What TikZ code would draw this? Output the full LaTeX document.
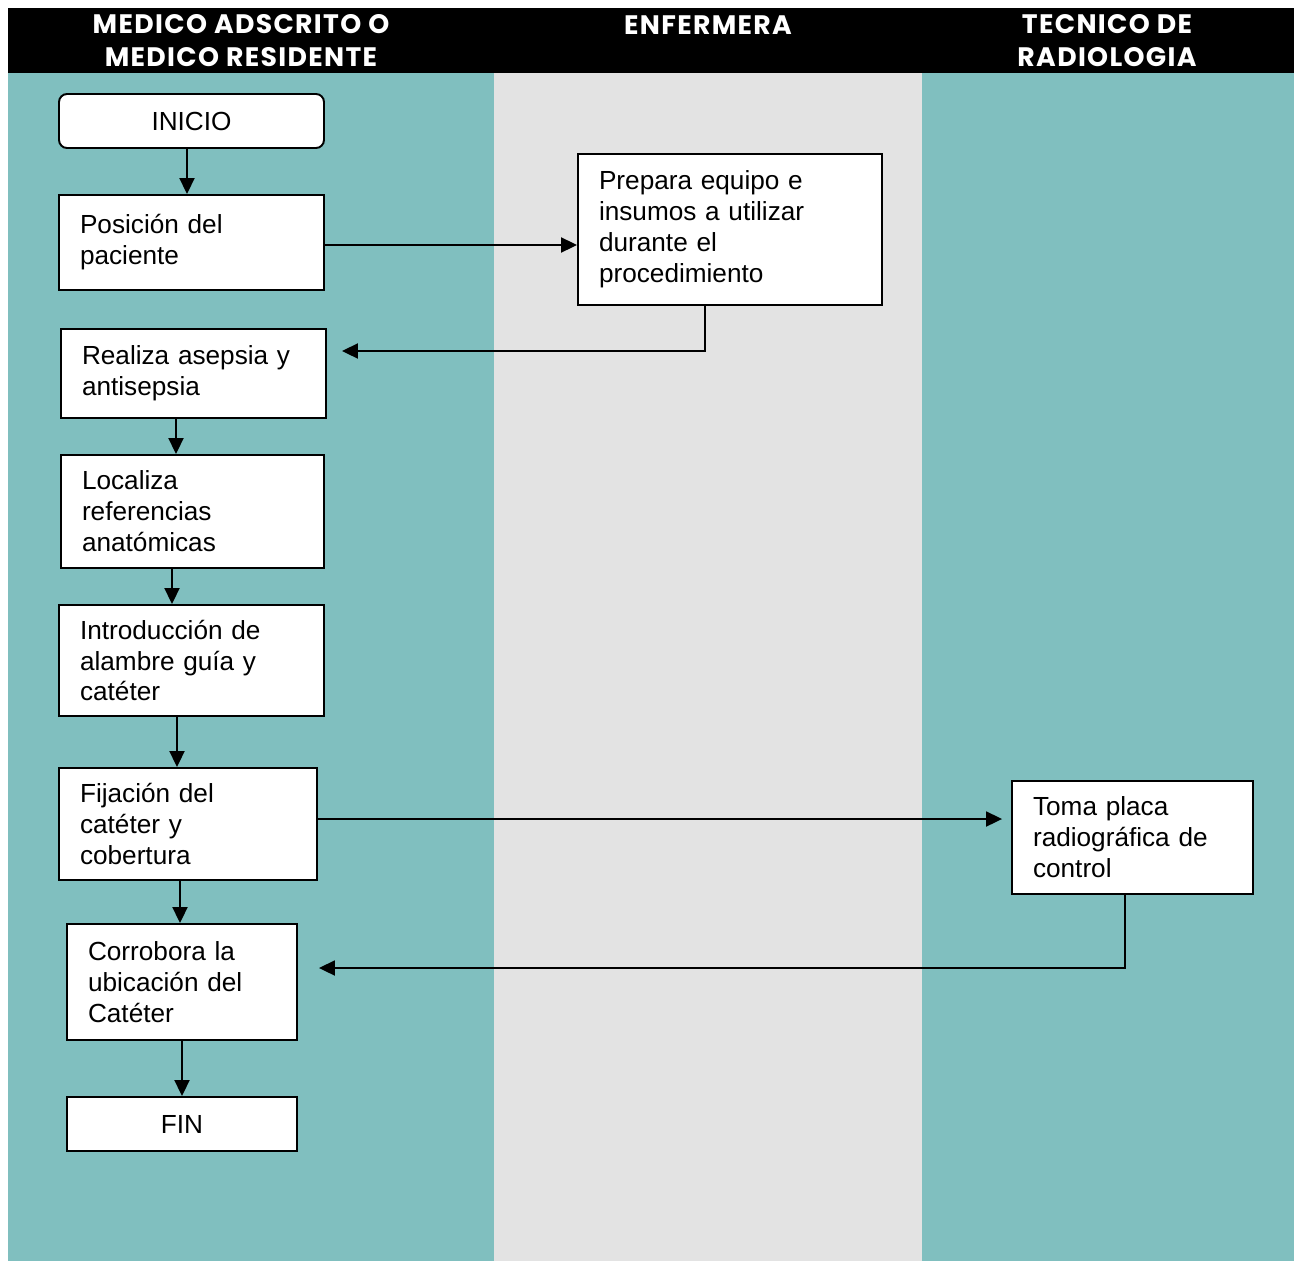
\documentclass[tikz,border=0pt]{standalone}
\usepackage{fontspec}
\setmainfont{Liberation Sans}
\newfontfamily\cabecera{Poppins}[LetterSpace=5]
\usetikzlibrary{arrows.meta}
\definecolor{verde}{RGB}{128,191,191}
\definecolor{gris}{RGB}{227,227,227}

\begin{document}
\begin{tikzpicture}[x=0.02cm,y=-0.02cm,
  caja/.style={draw,fill=white,line width=1.1pt,inner xsep=0.42cm,inner ysep=0pt,align=left,font=\fontsize{14.9}{17.6}\selectfont},
  terminal/.style={draw,fill=white,line width=1.1pt,align=center,font=\fontsize{14.9}{17.6}\selectfont},
  flecha/.style={line width=1.1pt,-{Triangle[length=0.32cm,width=0.3cm]}},
  titulo/.style={text=white,align=center,font=\cabecera\bfseries\fontsize{15.2}{18.8}\selectfont}]
\useasboundingbox (0,0) rectangle (1294,1261);
% carriles
\fill[verde] (8,73) rectangle (494,1261);
\fill[gris] (494,73) rectangle (922,1261);
\fill[verde] (922,73) rectangle (1294,1261);
\fill[black] (8,8) rectangle (1294,73);
\node[titulo] (medico) at (241,41) {MEDICO ADSCRITO O\\MEDICO RESIDENTE};
\node[titulo] (enfermera) at (708,25) {ENFERMERA};
\node[titulo] (tecnico) at (1107,41) {TECNICO DE\\RADIOLOGIA};
% pasos
\node[terminal,rounded corners=0.16cm,minimum width=5.3cm,minimum height=1.08cm] (inicio) at (191.5,121) {INICIO};
\node[caja,text width=4.46cm,minimum height=1.9cm] (posicion) at (191.5,242.5) {Posición del\\paciente};
\node[caja,text width=5.24cm,minimum height=3.02cm] (prepara) at (730,229.5) {Prepara equipo e\\insumos a utilizar\\durante el\\procedimiento};
\node[caja,text width=4.46cm,minimum height=1.78cm] (asepsia) at (193.5,373.5) {Realiza asepsia y\\antisepsia};
\node[caja,text width=4.42cm,minimum height=2.26cm] (localiza) at (192.5,511.5) {Localiza\\referencias\\anatómicas};
\node[caja,text width=4.46cm,minimum height=2.22cm] (intro) at (191.5,660.5) {Introducción de\\alambre guía y\\catéter};
\node[caja,text width=4.32cm,minimum height=2.24cm] (fijacion) at (188,824) {Fijación del\\catéter y\\cobertura};
\node[caja,text width=3.98cm,minimum height=2.26cm] (toma) at (1132.5,837.5) {Toma placa\\radiográfica de\\control};
\node[caja,text width=3.76cm,minimum height=2.32cm] (corrobora) at (182,982) {Corrobora la\\ubicación del\\Catéter};
\node[terminal,minimum width=4.6cm,minimum height=1.08cm] (fin) at (182,1124) {FIN};
% flechas
\draw[flecha] ([xshift=-0.09cm]inicio.south) -- ([xshift=-0.09cm]posicion.north);
\draw[flecha] ([yshift=-0.05cm]posicion.east) -- ([yshift=-0.05cm]posicion.east -| prepara.west);
\draw[flecha] ([xshift=-0.5cm]prepara.south) |- ([xshift=0.3cm,yshift=0.45cm]asepsia.east);
\draw[flecha] ([xshift=-0.35cm]asepsia.south) -- ([xshift=-0.35cm]asepsia.south |- localiza.north);
\draw[flecha] ([xshift=-0.41cm]localiza.south) -- ([xshift=-0.41cm]localiza.south |- intro.north);
\draw[flecha] ([xshift=-0.29cm]intro.south) -- ([xshift=-0.29cm]intro.south |- fijacion.north);
\draw[flecha] ([yshift=0.1cm]fijacion.east) -- ([xshift=-0.18cm,yshift=0.1cm]fijacion.east -| toma.west);
\draw[flecha] ([xshift=-0.16cm]fijacion.south) -- ([xshift=-0.16cm]fijacion.south |- corrobora.north);
\draw[flecha] ([xshift=-0.15cm]toma.south) |- ([xshift=0.42cm,yshift=0.28cm]corrobora.east);
\draw[flecha] (corrobora.south) -- (fin.north);
\end{tikzpicture}
\end{document}
